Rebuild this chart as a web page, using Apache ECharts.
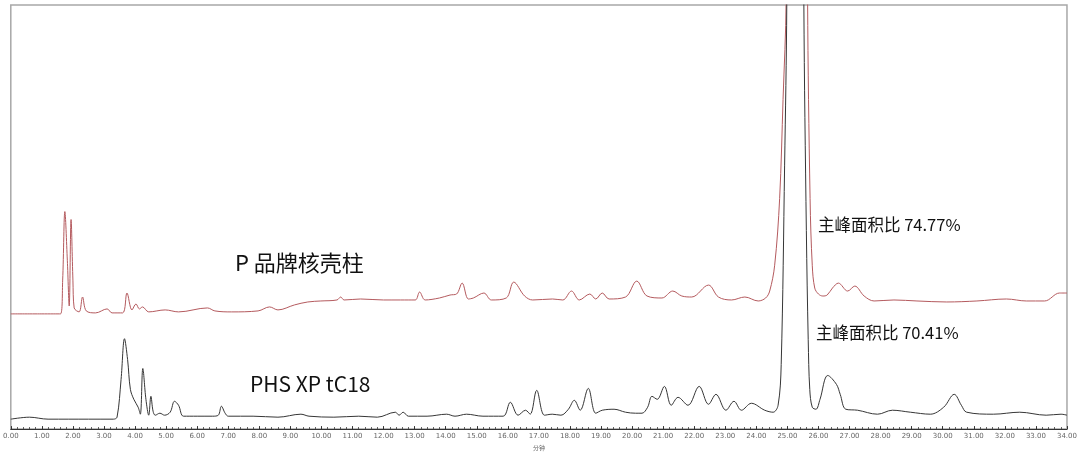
<!DOCTYPE html>
<html>
<head>
<meta charset="utf-8">
<script src="https://cdn.jsdelivr.net/npm/echarts@6/dist/echarts.min.js"></script>
<style>
  html, body { margin: 0; padding: 0; background: #fff; }
  #main { width: 1080px; height: 456px; }
</style>
</head>
<body>
<div id="main"></div>
<script>
// 保留时间 (分钟) 与信号 (任意单位) —— 从图上读出
const redTrace = [
  [0, 116], [1.0, 116], [1.6, 116], [1.67, 150], [1.74, 219], [1.82, 170], [1.88, 124], [1.94, 211],
  [2.0, 150], [2.04, 122], [2.2, 118], [2.31, 133], [2.43, 119], [2.73, 117], [3.1, 121], [3.26, 117],
  [3.6, 117], [3.74, 137], [3.9, 120], [4.03, 126], [4.14, 121], [4.24, 123], [4.44, 118], [4.97, 120],
  [5.4, 118], [6.33, 122], [6.57, 119], [7.1, 118], [7.96, 119], [8.33, 123], [8.6, 120], [9.13, 125],
  [9.56, 128], [9.98, 129], [10.5, 130], [10.62, 133], [10.73, 130], [11.26, 131], [12.0, 130],
  [12.54, 130], [13.02, 130], [13.16, 138], [13.34, 130], [13.8, 132], [14.14, 135], [14.35, 136],
  [14.53, 147], [14.73, 131], [14.89, 132], [15.23, 137], [15.47, 130], [15.95, 132], [16.19, 148],
  [16.54, 134], [16.8, 130], [17.44, 131], [17.77, 130], [18.05, 139], [18.3, 130], [18.64, 136],
  [18.83, 131], [19.04, 137], [19.26, 131], [19.79, 133], [20.15, 149], [20.48, 134], [20.96, 132],
  [21.31, 139], [21.6, 134], [21.92, 133], [22.46, 145], [22.78, 133], [23.2, 130], [23.63, 133],
  [24.06, 129], [24.3, 132], [24.43, 139], [24.59, 165], [24.75, 232], [24.86, 332], [24.96, 432],
  [25.1, 1200], [25.32, 2400], [25.55, 1200], [25.65, 432], [25.73, 232], [25.8, 165], [25.88, 142],
  [26.0, 136], [26.14, 134], [26.28, 135], [26.45, 142], [26.64, 147], [26.94, 139], [27.17, 144],
  [27.47, 134], [27.79, 129], [28.43, 130], [29.17, 129], [30.13, 128], [31.1, 129], [32.05, 131],
  [32.69, 129], [33.28, 129], [33.76, 137], [34, 137]
];
const blackTrace = [
  [0, 10], [0.6, 12], [1.2, 10], [2.5, 10], [3.3, 10], [3.42, 12], [3.55, 50], [3.66, 91], [3.76, 70],
  [3.85, 40], [3.96, 30], [4.1, 22], [4.17, 15], [4.25, 61], [4.35, 30], [4.44, 14], [4.51, 33],
  [4.58, 18], [4.65, 14], [4.8, 16], [4.95, 14], [5.13, 17], [5.27, 28], [5.4, 24], [5.56, 13],
  [6.0, 13], [6.5, 13], [6.68, 14], [6.78, 23], [6.9, 16], [7.0, 13], [7.8, 13], [8.6, 12], [9.34, 15],
  [9.6, 13], [10.4, 12], [11.2, 13], [11.8, 12], [12.38, 17], [12.5, 14], [12.63, 17], [12.8, 13],
  [13.4, 13], [14.03, 15], [14.3, 13], [14.67, 15], [15.2, 13], [15.85, 13], [16.08, 27], [16.33, 14],
  [16.57, 19], [16.72, 15], [16.93, 39], [17.18, 14], [17.43, 15], [17.71, 14], [17.95, 20],
  [18.14, 29], [18.33, 19], [18.59, 41], [18.83, 16], [19.04, 19], [19.42, 20], [19.79, 17],
  [20.11, 16], [20.32, 16], [20.5, 22], [20.64, 33], [20.81, 30], [21.04, 43], [21.26, 24],
  [21.48, 32], [21.8, 24], [22.16, 43], [22.46, 25], [22.7, 35], [23.02, 19], [23.28, 28],
  [23.52, 19], [23.84, 26], [24.27, 19], [24.54, 17], [24.7, 24], [24.8, 65], [24.91, 265],
  [24.98, 427], [25.1, 1200], [25.27, 2400], [25.42, 1200], [25.53, 427], [25.61, 200], [25.67, 90],
  [25.72, 40], [25.8, 22], [25.92, 20], [26.05, 30], [26.3, 54], [26.58, 45], [26.7, 35], [26.88, 20],
  [27.26, 19], [27.9, 15], [28.38, 19], [28.96, 17], [29.6, 15], [30.03, 22], [30.37, 35], [30.6, 24],
  [30.77, 17], [31.63, 15], [32.48, 17], [33.33, 14], [33.81, 15], [34, 14]
];
const xTicks = { min: 0, max: 34, step: 1 };
const labels = ["P 品牌核壳柱", "PHS XP tC18", "主峰面积比 74.77%", "主峰面积比 70.41%"];

const myChart = echarts.init(document.getElementById("main"));
const option = {
  animation: false,
  grid: {
    left: 8, right: 10, top: 5, bottom: 24,
    show: true, borderColor: "#a8a8a8", borderWidth: 1.5, backgroundColor: "#fff"
  },
  xAxis: {
    type: "value",
    min: xTicks.min, max: xTicks.max, interval: xTicks.step,
    name: "分钟", nameLocation: "middle", nameGap: 13,
    nameTextStyle: { fontSize: 6, color: "#666", fontFamily: "Noto Sans CJK SC" },
    axisLine: { show: true, lineStyle: { color: "#333", width: 1 } },
    axisTick: { show: true, inside: true, length: 3, lineStyle: { color: "#333" } },
    minorTick: { show: true, splitNumber: 5, length: 2, lineStyle: { color: "#555" } },
    axisLabel: {
      fontSize: 7, color: "#666", margin: 4, fontFamily: "DejaVu Sans",
      formatter: (v) => v.toFixed(2)
    },
    splitLine: { show: false }
  },
  yAxis: {
    type: "value", min: 0, max: 427,
    show: false, splitLine: { show: false }
  },
  series: [
    {
      name: "P 品牌核壳柱", type: "line", data: redTrace,
      showSymbol: false, smooth: 0.35, clip: true,
      lineStyle: { color: "#b45a5e", width: 1 }
    },
    {
      name: "PHS XP tC18", type: "line", data: blackTrace,
      showSymbol: false, smooth: 0.35, clip: true,
      lineStyle: { color: "#363636", width: 1 }
    }
  ],
  graphic: [
    { type: "text", left: 235, top: 252, style: { text: labels[0], fontSize: 22, fill: "#111", fontFamily: "Noto Sans CJK SC" } },
    { type: "text", left: 250, top: 374, style: { text: labels[1], fontSize: 21, fill: "#111", fontFamily: "Noto Sans CJK SC" } },
    { type: "text", left: 818, top: 216, style: { text: labels[2], fontSize: 16.5, fill: "#111", fontFamily: "Noto Sans CJK SC" } },
    { type: "text", left: 816, top: 324, style: { text: labels[3], fontSize: 16.5, fill: "#111", fontFamily: "Noto Sans CJK SC" } }
  ]
};
myChart.setOption(option);
</script>
</body>
</html>
